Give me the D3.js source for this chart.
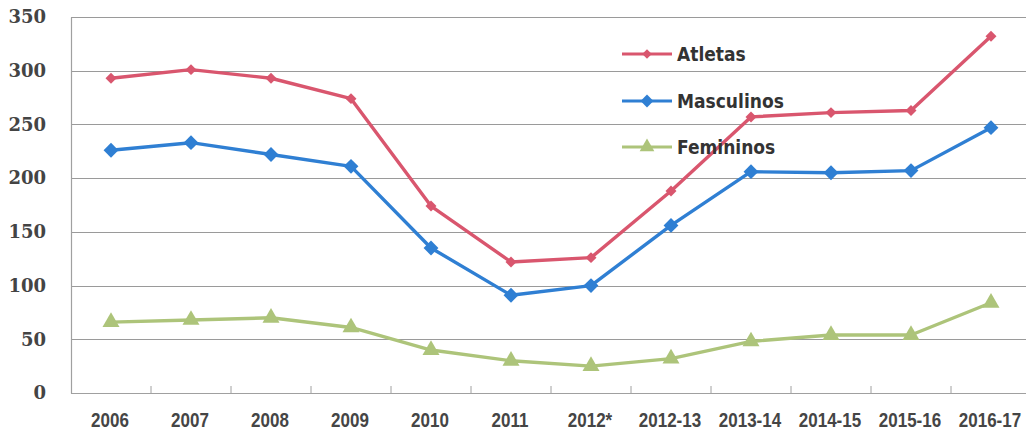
<!DOCTYPE html>
<html>
<head>
<meta charset="utf-8">
<script src="https://cdn.jsdelivr.net/npm/d3@7"></script>
<style>
  html, body { margin: 0; padding: 0; background: #fff; }
  svg { display: block; }
</style>
</head>
<body>
<svg id="chart" width="1026" height="436"></svg>
<script>
// Categories (seasons) and series values
const categories = ["2006", "2007", "2008", "2009", "2010", "2011", "2012*", "2012-13", "2013-14", "2014-15", "2015-16", "2016-17"];
const atletas    = [293, 301, 293, 274, 174, 122, 126, 188, 257, 261, 263, 332];
const masculinos = [226, 233, 222, 211, 135, 91, 100, 156, 206, 205, 207, 247];
const femininos  = [66, 68, 70, 61, 40, 30, 25, 32, 48, 54, 54, 84];
const yTicks = [0, 50, 100, 150, 200, 250, 300, 350];

// Square diamond symbol (a square rotated by 45 degrees)
const symbolSquareDiamond = {
  draw(ctx, size) {
    const r = Math.sqrt(size / 2);
    ctx.moveTo(0, -r);
    ctx.lineTo(r, 0);
    ctx.lineTo(0, r);
    ctx.lineTo(-r, 0);
    ctx.closePath();
  }
};

const series = [
  { name: "Atletas",    values: atletas,    color: "#d9566e", marker: "diamond",  size: 60,  legendY: 54 },
  { name: "Masculinos", values: masculinos, color: "#2f7fd3", marker: "diamond",  size: 110, legendY: 101 },
  { name: "Femininos",  values: femininos,  color: "#adc47a", marker: "triangle", size: 125, legendY: 147 }
];

const svg = d3.select("#chart");
const plot = { left: 71, right: 1031, top: 17, bottom: 393 };

const x = d3.scaleBand().domain(categories).range([plot.left, plot.right]);
const cx = c => x(c) + x.bandwidth() / 2;
const y = d3.scaleLinear().domain([0, 350]).range([plot.bottom, plot.top]);

// Horizontal gridlines
svg.append("g")
  .selectAll("line")
  .data(yTicks.filter(t => t > 0))
  .join("line")
  .attr("x1", plot.left).attr("x2", 1026)
  .attr("y1", d => Math.round(y(d)) + 0.5).attr("y2", d => Math.round(y(d)) + 0.5)
  .attr("stroke", "#9a9a9a").attr("stroke-width", 1.2);

// Y axis (labels plus vertical axis line)
const yAxis = svg.append("g")
  .attr("transform", `translate(${plot.left},0)`)
  .call(d3.axisLeft(y).tickValues(yTicks).tickSize(0).tickPadding(25));
yAxis.select(".domain").attr("stroke", "#a0a0a0").attr("stroke-width", 1.2);
yAxis.selectAll("text")
  .attr("font-family", "'DejaVu Serif', 'Liberation Serif', serif")
  .attr("font-weight", "bold")
  .attr("font-size", 18)
  .attr("fill", "#444");

// X axis with tick marks at category boundaries
const xAxisG = svg.append("g").attr("transform", `translate(0,${plot.bottom})`);
xAxisG.append("line")
  .attr("x1", plot.left).attr("x2", 1026)
  .attr("y1", 0.5).attr("y2", 0.5)
  .attr("stroke", "#a0a0a0").attr("stroke-width", 1.2);
xAxisG.selectAll("line.tick")
  .data(categories)
  .join("line")
  .attr("class", "tick")
  .attr("x1", d => x(d) + x.bandwidth()).attr("x2", d => x(d) + x.bandwidth())
  .attr("y1", 0).attr("y2", -7)
  .attr("stroke", "#a0a0a0");
xAxisG.selectAll("text")
  .data(categories)
  .join("text")
  .attr("transform", d => `translate(${cx(d) - 1},34) scale(0.85,1)`)
  .attr("text-anchor", "middle")
  .attr("font-family", "'Liberation Sans', Arial, sans-serif")
  .attr("font-weight", "bold")
  .attr("font-size", 20)
  .attr("fill", "#454545")
  .text(d => d);

// Lines and markers
const line = d3.line()
  .x((d, i) => cx(categories[i]))
  .y(d => y(d));

const symbolType = s => s.marker === "triangle" ? d3.symbolTriangle : symbolSquareDiamond;

series.forEach(s => {
  const g = svg.append("g");
  g.append("path")
    .datum(s.values)
    .attr("d", line)
    .attr("fill", "none")
    .attr("stroke", s.color)
    .attr("stroke-width", 3.4)
    .attr("stroke-linejoin", "round");
  g.selectAll("path.marker")
    .data(s.values)
    .join("path")
    .attr("class", "marker")
    .attr("transform", (d, i) => `translate(${cx(categories[i])},${y(d)})`)
    .attr("d", d3.symbol().type(symbolType(s)).size(s.size))
    .attr("fill", s.color);
});

// Legend
const legend = svg.append("g");
series.forEach(s => {
  const lg = legend.append("g").attr("transform", `translate(622,${s.legendY})`);
  lg.append("line")
    .attr("x1", 0).attr("x2", 50).attr("y1", 0).attr("y2", 0)
    .attr("stroke", s.color).attr("stroke-width", 3.2);
  lg.append("path")
    .attr("transform", "translate(25,0)")
    .attr("d", d3.symbol().type(symbolType(s)).size(s.size * 0.75)())
    .attr("fill", s.color);
  lg.append("text")
    .attr("x", 55).attr("y", 7)
    .attr("font-family", "'DejaVu Sans Condensed', 'DejaVu Sans', sans-serif")
    .attr("font-weight", "bold")
    .attr("font-size", 19)
    .attr("fill", "#333")
    .text(s.name);
});
</script>
</body>
</html>
